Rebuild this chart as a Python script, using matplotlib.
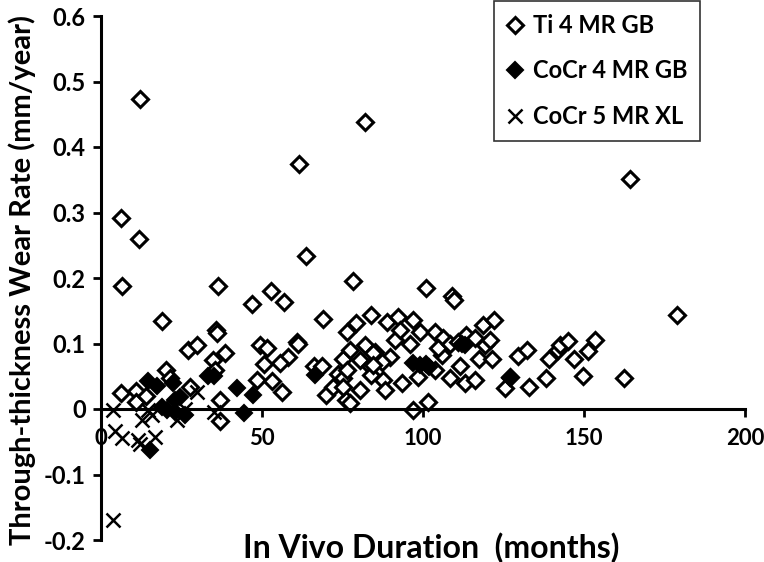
import matplotlib
matplotlib.use("Agg")
import matplotlib.pyplot as plt

# ---- data ----
ti_x = [12.1, 82, 61.6, 164.3, 6.2, 11.8, 6.5, 36.2, 63.7, 179, 18.8, 78.2, 101, 109, 109.5,
        47, 52.8, 56.9, 35.7, 36, 26.9, 29.7, 38.5, 49.4, 51.4, 68.8, 61, 61.3, 58.2, 55.6,
        50.5, 56.1, 48.4, 53, 37, 37, 34.9, 35.5, 6.3, 11, 11, 14, 20.2, 21.4, 27.6,
        66, 68.5, 70, 72.2, 73.7, 75.3, 75.3, 76.3, 79.2, 77.3, 76.1, 77.3, 80.4, 80.4, 82,
        83.5, 84, 84, 85, 87.7, 88.2, 88.7, 89.8, 91.3, 92.3, 92.9, 93.4, 96, 97, 98.5, 99,
        97, 101.6, 103.7, 103.7, 105.8, 106.3, 108.4, 111.5, 113, 113.5, 116.1, 116, 117.5,
        118.7, 119.3, 120.8, 121.3, 121.9, 125.5, 127, 129.6, 132.2, 133, 138.2, 139, 142,
        142.5, 145, 147, 149.8, 151.3, 153.4, 162.4, 84.6, 87.2, 84.6, 76.3, 75.2, 104.8,
        108.4, 111]
ti_y = [0.473, 0.438, 0.374, 0.351, 0.292, 0.26, 0.188, 0.188, 0.234, 0.143, 0.134, 0.195, 0.184, 0.172, 0.167,
        0.16, 0.18, 0.163, 0.12, 0.116, 0.09, 0.098, 0.085, 0.098, 0.093, 0.137, 0.103, 0.1, 0.08, 0.07,
        0.068, 0.026, 0.044, 0.042, 0.014, -0.019, 0.075, 0.06, 0.025, 0.027, 0.011, 0.02, 0.06, 0.048, 0.033,
        0.065, 0.065, 0.021, 0.034, 0.054, 0.047, 0.077, 0.118, 0.132, 0.09, 0.013, 0.009, 0.029, 0.075, 0.098,
        0.065, 0.143, 0.052, 0.087, 0.044, 0.029, 0.133, 0.08, 0.105, 0.141, 0.12, 0.039, 0.1, 0.136, 0.049, 0.118,
        -0.002, 0.011, 0.118, 0.06, 0.082, 0.108, 0.047, 0.065, 0.039, 0.113, 0.044, 0.108, 0.077,
        0.128, 0.098, 0.105, 0.077, 0.136, 0.032, 0.049, 0.081, 0.09, 0.033, 0.048, 0.077, 0.09,
        0.097, 0.104, 0.076, 0.05, 0.089, 0.105, 0.048, 0.085, 0.072, 0.067, 0.06, 0.034, 0.093,
        0.1, 0.103]

cocr4_x = [14.7, 17.5, 18.8, 20.4, 23, 24.5, 26, 15.2, 33.3, 35, 23, 22.5, 42.1, 44.4, 47.3,
           66.5, 97, 99, 101, 102, 112, 113, 127]
cocr4_y = [0.043, 0.035, 0.003, -0.002, -0.004, 0.019, -0.009, -0.062, 0.05, 0.05, 0.013, 0.039, 0.032, -0.006, 0.021,
           0.052, 0.07, 0.067, 0.068, 0.064, 0.1, 0.097, 0.047]

cocr5_x = [3.8, 4.3, 6.4, 11.6, 12, 12.6, 14.7, 16.8, 15.7, 23.5, 26.2, 29.7, 35, 3.8]
cocr5_y = [-0.002, -0.034, -0.044, -0.047, -0.053, -0.017, -0.002, -0.042, -0.009, -0.017, 0.0, 0.026, -0.004, -0.17]

labels = ["Ti 4 MR GB", "CoCr 4 MR GB", "CoCr 5 MR XL"]
x_ticks = [0, 50, 100, 150, 200]
y_ticks = [-0.2, -0.1, 0, 0.1, 0.2, 0.3, 0.4, 0.5, 0.6]

plt.rcParams['font.family'] = ['Lato', 'DejaVu Sans']
plt.rcParams['font.weight'] = 'bold'

fig = plt.figure(figsize=(7.64, 5.62), dpi=100)
ax = fig.add_axes([101/764, 1-540/562, 644/764, 524/562])

ax.plot(ti_x, ti_y, linestyle='none', marker='D', markersize=8, markerfacecolor='white',
        markeredgecolor='black', markeredgewidth=2.2, label=labels[0])
ax.plot(cocr4_x, cocr4_y, linestyle='none', marker='D', markersize=8, markerfacecolor='black',
        markeredgecolor='black', markeredgewidth=1.5, label=labels[1])
ax.plot(cocr5_x, cocr5_y, linestyle='none', marker='x', markersize=10, markeredgecolor='black',
        markeredgewidth=1.8, label=labels[2])

ax.set_xlim(0, 200)
ax.set_ylim(-0.2, 0.6)
ax.set_xticks(x_ticks)
ax.set_yticks(y_ticks)
ax.set_yticklabels([("%g" % v) for v in y_ticks])
ax.spines['top'].set_visible(False)
ax.spines['right'].set_visible(False)
ax.spines['bottom'].set_position(('data', 0))
ax.spines['left'].set_linewidth(2.2)
ax.spines['bottom'].set_linewidth(2.2)
ax.tick_params(axis='both', direction='out', length=6, width=2)
ax.tick_params(axis='x', pad=8, labelsize=16)
ax.tick_params(axis='y', pad=5, labelsize=17)
for t in ax.get_xticklabels() + ax.get_yticklabels():
    t.set_fontweight('bold')

ax.set_xlabel("In Vivo Duration  (months)", fontsize=23, fontweight='bold')
ax.xaxis.set_label_coords(0.512, -0.015)
ax.xaxis.label.set_verticalalignment('center')
ax.set_ylabel("Through-thickness Wear Rate (mm/year)", fontsize=21, fontweight='bold')
ax.yaxis.set_label_coords(-0.122, 0.496)
ax.yaxis.label.set_verticalalignment('center')

leg = ax.legend(loc='upper left', bbox_to_anchor=((494-101)/644, (540-1)/524), frameon=True,
                fancybox=False, edgecolor='black', fontsize=17, handlelength=0.7,
                handletextpad=0.4, labelspacing=0.95, borderpad=0.55, borderaxespad=0)
leg.get_frame().set_linewidth(1.2)
for t in leg.get_texts():
    t.set_fontweight('bold')

fig.savefig("out.png", dpi=100)
